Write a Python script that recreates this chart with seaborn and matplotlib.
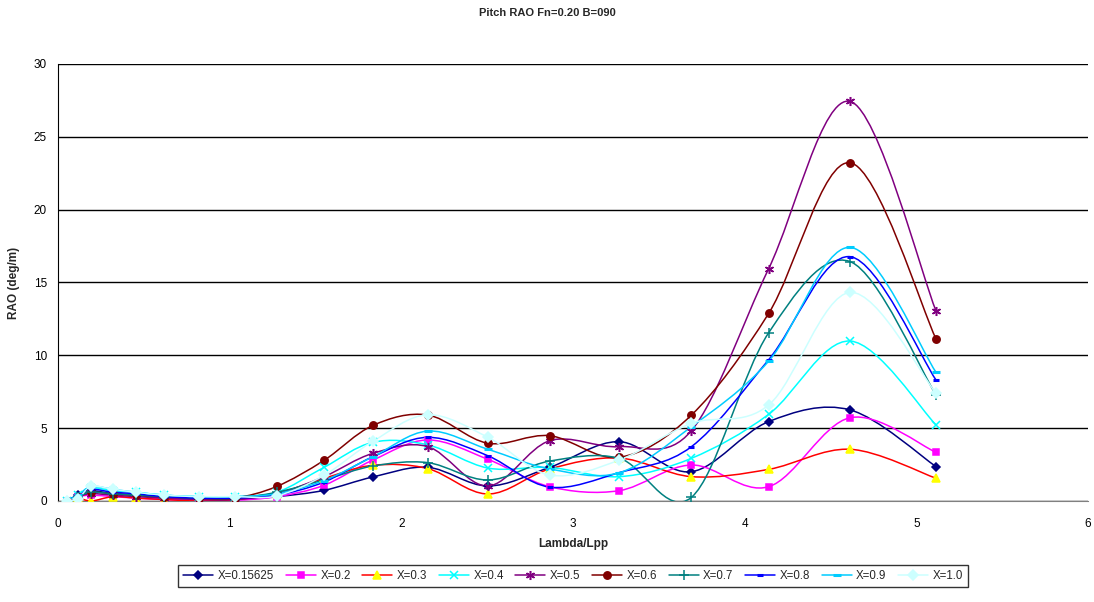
import numpy as np
import pandas as pd
import seaborn as sns
import matplotlib.pyplot as plt
from matplotlib.path import Path
from matplotlib.patches import PathPatch
from matplotlib.lines import Line2D

sns.set_style("white")
plt.rcParams['font.family'] = ['Liberation Sans', 'DejaVu Sans']

# lambda/Lpp positions of the computed points
lam = [0.05, 0.115, 0.195, 0.32, 0.455, 0.62, 0.82, 1.03, 1.275, 1.55,
       1.835, 2.155, 2.505, 2.865, 3.27, 3.69, 4.14, 4.615, 5.115]

x015625 = [0.0, 0.4, 0.7, 0.5, 0.4, 0.2, 0.15, 0.1, 0.3, 0.73,
           1.65, 2.31, 1.03, 2.31, 4.07, 2.01, 5.45, 6.25, 2.36]
x02 = [0.0, 0.3, 0.4, 0.3, 0.2, 0.1, 0.05, 0.05, 0.3, 1.08,
       2.81, 4.19, 2.86, 0.98, 0.71, 2.47, 0.98, 5.72, 3.34]
x03 = [0.0, 0.2, 0.0, 0.3, 0.2, 0.1, 0.0, 0.1, 0.5, 1.55,
       2.45, 2.22, 0.48, 2.2, 2.95, 1.67, 2.17, 3.55, 1.56]
x04 = [0.0, 0.4, 0.9, 0.7, 0.6, 0.4, 0.3, 0.3, 0.6, 2.31,
       4.03, 3.85, 2.26, 2.3, 1.67, 2.93, 5.95, 10.98, 5.22]
x05 = [0.0, 0.3, 0.5, 0.4, 0.3, 0.2, 0.1, 0.1, 0.5, 1.67,
       3.27, 3.73, 1.03, 4.14, 3.73, 4.83, 15.95, 27.43, 13.04]
x06 = [0.0, 0.3, 0.6, 0.5, 0.4, 0.3, 0.2, 0.2, 1.0, 2.79,
       5.19, 5.9, 3.96, 4.48, 3.0, 5.9, 12.88, 23.22, 11.12]
x07 = [0.0, 0.3, 0.6, 0.5, 0.4, 0.3, 0.2, 0.2, 0.6, 1.45,
       2.4, 2.63, 1.44, 2.74, 2.93, 0.25, 11.55, 16.43, 7.27]
x08 = [0.0, 0.4, 0.8, 0.6, 0.5, 0.3, 0.2, 0.2, 0.4, 1.3,
       3.04, 4.37, 3.1, 0.95, 1.95, 3.73, 9.7, 16.77, 8.3]
x09 = [0.0, 0.4, 1.0, 0.8, 0.6, 0.4, 0.3, 0.3, 0.5, 1.4,
       3.04, 4.8, 3.55, 2.2, 1.94, 5.1, 9.6, 17.41, 8.83]
x10 = [0.0, 0.15, 1.0, 0.8, 0.6, 0.4, 0.3, 0.3, 0.35, 1.76,
       4.1, 5.92, 4.37, 1.78, 2.81, 5.33, 6.59, 14.32, 7.39]

labels = ["X=0.15625", "X=0.2", "X=0.3", "X=0.4", "X=0.5",
          "X=0.6", "X=0.7", "X=0.8", "X=0.9", "X=1.0"]
series = [x015625, x02, x03, x04, x05, x06, x07, x08, x09, x10]

# (line colour, marker, marker face, marker edge, marker size)
styles = [
    ("#000080", "D", "#000080", "#000080", 4.2),
    ("#FF00FF", "s", "#FF00FF", "#FF00FF", 4.8),
    ("#FF0000", "^", "#FFFF00", "#FFFF00", 5.8),
    ("#00FFFF", "x", "#00FFFF", "#00FFFF", 5.5),
    ("#800080", (6, 2, 0), "#800080", "#800080", 6.5),
    ("#800000", "o", "#800000", "#800000", 5.3),
    ("#008080", "+", "#008080", "#008080", 6.5),
    ("#0000FF", "_", "#0000FF", "#0000FF", 4.5),
    ("#00CCFF", "_", "#00CCFF", "#00CCFF", 5.5),
    ("#CCFFFF", "D", "#CCFFFF", "#CCFFFF", 4.8),
]


def smooth_path(xs, ys):
    # Excel-style smoothed line: cubic Bezier through every point
    p = np.column_stack([xs, ys])
    n = len(p)
    verts = [p[0]]
    codes = [Path.MOVETO]
    for i in range(n - 1):
        p0 = p[max(i - 1, 0)]
        p3 = p[min(i + 2, n - 1)]
        c1 = p[i] + (p[i + 1] - p0) / 6
        c2 = p[i + 1] - (p3 - p[i]) / 6
        verts += [c1, c2, p[i + 1]]
        codes += [Path.CURVE4] * 3
    return Path(verts, codes)


fig = plt.figure(figsize=(10.94, 6.02), dpi=100)
ax = fig.add_axes([0.053, 0.1678, 0.9415, 0.7259])

handles = []
for lab, ys, (col, mk, mfc, mec, ms) in zip(labels, series, styles):
    ax.add_patch(PathPatch(smooth_path(lam, ys), facecolor="none",
                           edgecolor=col, lw=1.1, zorder=3))
    df = pd.DataFrame({"lam": lam, "rao": ys})
    mew = 2.2 if mk == "_" else 1.1
    sns.lineplot(data=df, x="lam", y="rao", ax=ax, sort=False,
                 linestyle="", marker=mk, markersize=ms,
                 markerfacecolor=mfc, markeredgecolor=mec,
                 markeredgewidth=mew, color=col, zorder=4)
    handles.append(Line2D([], [], color=col, lw=1.1, marker=mk,
                          markersize=ms, markerfacecolor=mfc,
                          markeredgecolor=mec, markeredgewidth=mew))

ax.set_xlim(0, 6)
ax.set_ylim(0, 30)
ax.set_xticks(range(0, 7))
ax.set_yticks(range(0, 31, 5))
ax.yaxis.grid(True, color="black", lw=1)
ax.set_axisbelow(True)
for s in ["top", "right"]:
    ax.spines[s].set_visible(False)
ax.spines["left"].set_color("black")
ax.spines["bottom"].set_color("#808080")
ax.tick_params(axis="both", direction="out", length=5, width=1,
               labelsize=8.5, colors="black", pad=3)
ax.tick_params(axis="x", color="#808080", labelcolor="black", pad=7)

ax.set_xlabel("Lambda/Lpp", fontsize=8.5, fontweight="bold", labelpad=6)
ax.set_ylabel("RAO (deg/m)", fontsize=8.5, fontweight="bold", labelpad=10)
fig.suptitle("Pitch RAO Fn=0.20 B=090", fontsize=8, fontweight="bold",
             x=0.5, y=0.987)

leg = fig.legend(handles, labels, loc="lower center", ncol=10,
                 bbox_to_anchor=(0.524, 0.015), fontsize=8.3, frameon=True,
                 fancybox=False, edgecolor="black", handlelength=2.6,
                 columnspacing=1.0, handletextpad=0.4, borderpad=0.45)
leg.get_frame().set_linewidth(1)

fig.savefig("out.png", dpi=100)
